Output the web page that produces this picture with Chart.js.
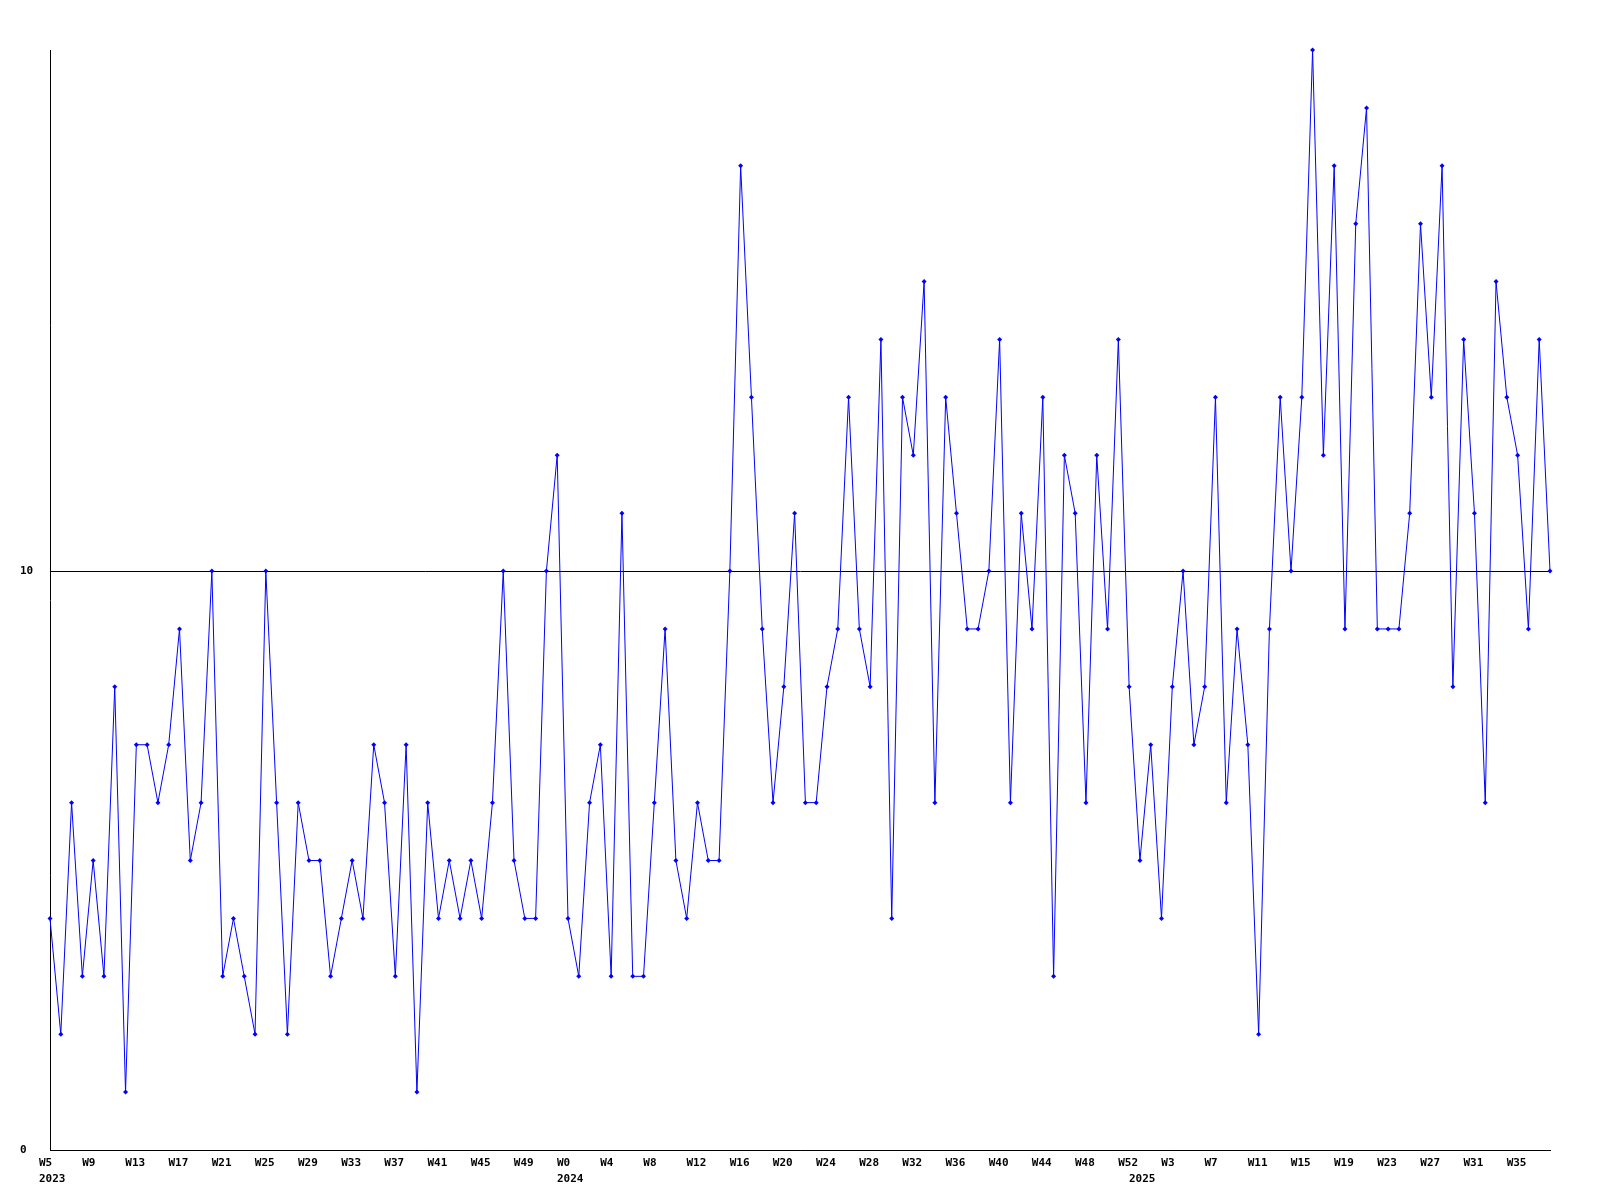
<!DOCTYPE html>
<html>
<head>
<meta charset="utf-8">
<script src="https://cdn.jsdelivr.net/npm/chart.js@4/dist/chart.umd.min.js"></script>
<style>
  html, body { margin: 0; padding: 0; background: #fff; }
  canvas { display: block; }
</style>
</head>
<body>
<canvas id="weekChart" width="1600" height="1200"></canvas>
<script>
// weekly counts, one list per year
const years = ['2023', '2024', '2025'];
const firstWeek = [5, 0, 0];
const values2023 = [4, 2, 6, 3, 5, 3, 8, 1, 7, 7, 6, 7, 9, 5, 6, 10, 3, 4, 3, 2,
  10, 6, 2, 6, 5, 5, 3, 4, 5, 4, 7, 6, 3, 7, 1, 6, 4, 5, 4, 5,
  4, 6, 10, 5, 4, 4, 10, 12];
const values2024 = [4, 3, 6, 7, 3, 11, 3, 3, 6, 9, 5, 4, 6, 5, 5, 10, 17, 13, 9, 6,
  8, 11, 6, 6, 8, 9, 13, 9, 8, 14, 4, 13, 12, 15, 6, 13, 11, 9, 9, 10,
  14, 6, 11, 9, 13, 3, 12, 11, 6, 12, 9, 14, 8];
const values2025 = [5, 7, 4, 8, 10, 7, 8, 13, 6, 9, 7, 2, 9, 13, 10, 13, 19, 12, 17, 9,
  16, 18, 9, 9, 9, 11, 16, 13, 17, 8, 14, 11, 6, 15, 13, 12, 9, 14, 10];
const yTicks = [0, 10];
const yMax = 19;
const labelEvery = 4;

const perYear = [values2023, values2024, values2025];
let weekLabels = [];
let yearLabels = [];
let counts = [];
perYear.forEach(function(vals, y) {
  vals.forEach(function(v, k) {
    weekLabels.push('W' + (firstWeek[y] + k));
    yearLabels.push(k === 0 ? years[y] : '');
    counts.push(v);
  });
});

const font = { family: '"DejaVu Sans Mono", monospace', size: 11, weight: 'bold', lineHeight: '16px' };

var ctx = document.getElementById('weekChart').getContext('2d');
var myChart = new Chart(ctx, {
  type: 'line',
  data: {
    labels: weekLabels,
    datasets: [{
      data: counts,
      borderColor: '#0000ff',
      backgroundColor: '#0000ff',
      borderWidth: 1,
      tension: 0,
      pointStyle: 'rectRot',
      pointRadius: 2.5,
      pointBorderWidth: 0,
      clip: false
    }]
  },
  options: {
    responsive: false,
    animation: false,
    devicePixelRatio: 1,
    layout: { padding: { left: 20, top: 50, right: 50, bottom: 0 } },
    plugins: { legend: { display: false }, tooltip: { enabled: false } },
    scales: {
      x: {
        grid: { display: false, drawTicks: false },
        border: { display: true, color: '#000', width: 1 },
        afterFit: function(scale) { scale.height = 50; },
        ticks: {
          autoSkip: false,
          maxRotation: 0,
          minRotation: 0,
          align: 'start',
          labelOffset: -11,
          padding: 5,
          color: '#000',
          font: font,
          callback: function(val, i) {
            var w = i % labelEvery === 0 ? weekLabels[i] : '';
            var yr = yearLabels[i];
            if (!w && !yr) return '';
            return yr ? [w, yr] : w;
          }
        }
      },
      y: {
        min: 0,
        max: yMax,
        afterFit: function(scale) { scale.width = 30; },
        afterBuildTicks: function(scale) {
          scale.ticks = scale.ticks.filter(function(t) { return yTicks.indexOf(t.value) >= 0; });
        },
        grid: { color: '#000', lineWidth: 1, drawTicks: false },
        border: { display: true, color: '#000', width: 1 },
        ticks: {
          stepSize: 10,
          crossAlign: 'far',
          padding: 0,
          color: '#000',
          font: font
        }
      }
    }
  }
});
</script>
</body>
</html>
